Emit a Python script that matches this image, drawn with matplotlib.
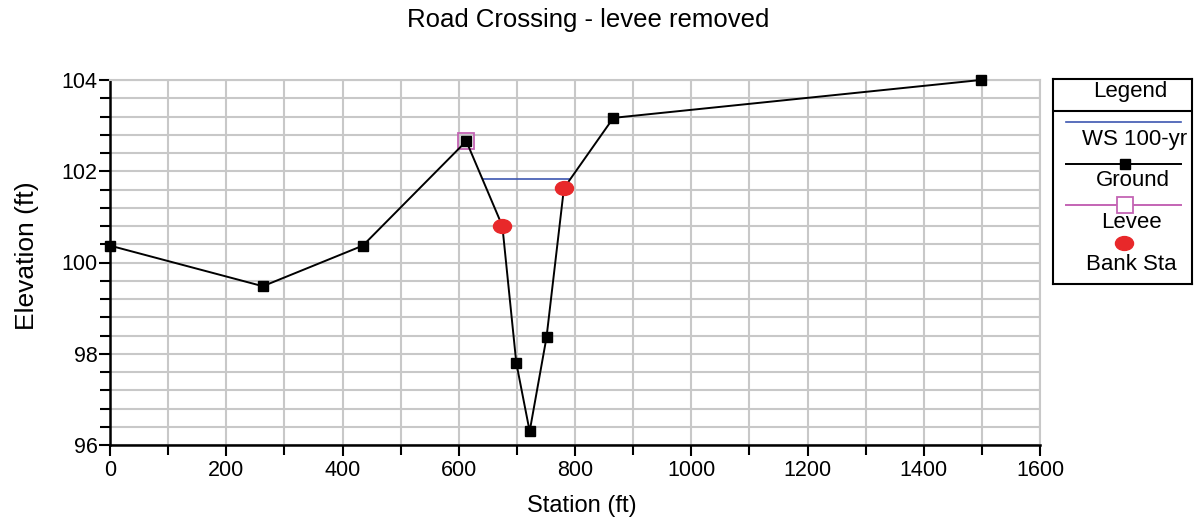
import matplotlib
matplotlib.use("Agg")
import matplotlib.pyplot as plt
from matplotlib.path import Path
from matplotlib.transforms import Affine2D
from matplotlib.ticker import MultipleLocator

plt.rcParams['font.family'] = ['Liberation Sans', 'DejaVu Sans']

# Cross-section ground profile
ground_sta = [0, 263, 435, 613, 675, 699, 722, 751, 781, 866, 1498]
ground_elev = [100.37, 99.48, 100.37, 102.66, 100.80, 97.80, 96.30, 98.36, 101.63, 103.17, 104.00]

# Water surface (100-yr)
ws_sta = [641, 790]
ws_elev = [101.83, 101.83]

# Levee point
levee_sta = [613]
levee_elev = [102.66]

# Bank stations
bank_sta = [675, 781]
bank_elev = [100.80, 101.63]

title = "Road Crossing - levee removed"
x_label = "Station (ft)"
y_label = "Elevation (ft)"
legend_title = "Legend"
legend_labels = ["WS 100-yr", "Ground", "Levee", "Bank Sta"]

WS_COLOR = "#3d56b0"
GROUND_COLOR = "black"
LEVEE_COLOR = "#c464b4"
BANK_COLOR = "#e8282a"
GRID_COLOR = "#c8c8c8"

ellipse = Path.unit_circle().transformed(Affine2D().scale(1.3, 1.0))

fig = plt.figure(figsize=(11.94, 5.18), dpi=100)
ax = fig.add_axes([110 / 1194, 1 - 445 / 518, 930 / 1194, 365 / 518])

ax.set_xlim(0, 1600)
ax.set_ylim(96, 104)
ax.xaxis.set_major_locator(MultipleLocator(200))
ax.xaxis.set_minor_locator(MultipleLocator(100))
ax.yaxis.set_major_locator(MultipleLocator(2))
ax.yaxis.set_minor_locator(MultipleLocator(0.4))
ax.grid(True, which='both', color=GRID_COLOR, linewidth=1.5, zorder=0)
ax.set_axisbelow(True)
ax.tick_params(which='both', direction='out', width=1.5, color='black',
               labelsize=15.5)
ax.tick_params(which='major', length=8)
ax.tick_params(which='minor', length=7)
ax.tick_params(axis='x', pad=3)
ax.tick_params(axis='y', pad=1)
for side in ('top', 'right'):
    ax.spines[side].set_color(GRID_COLOR)
    ax.spines[side].set_linewidth(1.5)
for side in ('left', 'bottom'):
    ax.spines[side].set_color('black')
    ax.spines[side].set_linewidth(1.8)

ax.plot(ws_sta, ws_elev, color=WS_COLOR, linewidth=1.2, zorder=3)
ax.plot(levee_sta, levee_elev, linestyle='none', marker='s', markersize=11.5,
        markerfacecolor='none', markeredgecolor=LEVEE_COLOR, markeredgewidth=1.3,
        zorder=4)
ax.plot(ground_sta, ground_elev, color=GROUND_COLOR, linewidth=1.4,
        marker='s', markersize=7.5, markerfacecolor='black',
        markeredgecolor='black', zorder=5, clip_on=False)
ax.plot(bank_sta, bank_elev, linestyle='none', marker=ellipse, markersize=13,
        markerfacecolor=BANK_COLOR, markeredgecolor=BANK_COLOR, zorder=6)

fig.text(588 / 1194, 1 - 20 / 518, title, ha='center', va='center', fontsize=18.5)
fig.text(582 / 1194, 1 - 506 / 518, x_label, ha='center', va='center', fontsize=17)
fig.text(27 / 1194, 1 - 256 / 518, y_label, ha='center', va='center',
         rotation=90, fontsize=19)

# Legend panel
lg = fig.add_axes([1053 / 1194, 1 - 284 / 518, 139 / 1194, 205 / 518])
lg.set_xlim(1053, 1192)
lg.set_ylim(284, 79)
lg.set_xticks([])
lg.set_yticks([])
for s in lg.spines.values():
    s.set_linewidth(1.5)
    s.set_color('black')
lg.text(1130, 91, legend_title, ha='center', va='center', fontsize=16)
lg.plot([1053, 1192], [110.5, 110.5], color='black', linewidth=1.5)
lg.plot([1066, 1181], [122, 122], color=WS_COLOR, linewidth=1.2)
lg.text(1135, 140, legend_labels[0], ha='center', va='center', fontsize=16)
lg.plot([1066, 1181], [164, 164], color=GROUND_COLOR, linewidth=1.4)
lg.plot([1125], [164], marker='s', markersize=7.5, color='black')
lg.text(1133, 181, legend_labels[1], ha='center', va='center', fontsize=16)
lg.plot([1066, 1181], [205, 205], color=LEVEE_COLOR, linewidth=1.4)
lg.plot([1125], [205], marker='s', markersize=11, markerfacecolor='white',
        markeredgecolor=LEVEE_COLOR, markeredgewidth=1.3)
lg.text(1131, 222, legend_labels[2], ha='center', va='center', fontsize=16)
lg.plot([1124], [243], marker=ellipse, markersize=13,
        markerfacecolor=BANK_COLOR, markeredgecolor=BANK_COLOR)
lg.text(1131, 264, legend_labels[3], ha='center', va='center', fontsize=16)

fig.savefig("out.png", dpi=100)
